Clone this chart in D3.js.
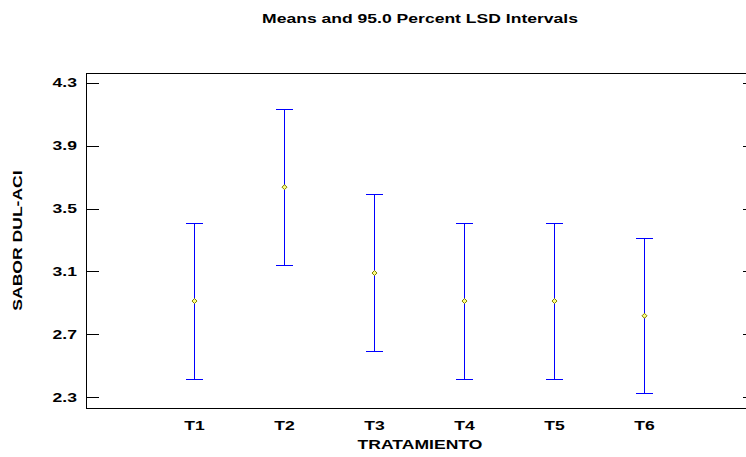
<!DOCTYPE html>
<html>
<head>
<meta charset="utf-8">
<script src="https://cdn.jsdelivr.net/npm/d3@7"></script>
<style>
  body { margin: 0; background: #fff; }
  text { font-family: "Liberation Sans", Arial, sans-serif; font-weight: bold; fill: #000; }
  line, rect { shape-rendering: crispEdges; }
</style>
</head>
<body>
<svg width="746" height="457"></svg>
<script>
// data
const groups = ['T1', 'T2', 'T3', 'T4', 'T5', 'T6'];
const means = [2.912, 3.636, 3.090, 2.912, 2.912, 2.818];
const lower = [2.414, 3.141, 2.594, 2.414, 2.414, 2.322];
const upper = [3.408, 4.131, 3.588, 3.408, 3.408, 3.312];
const yTicks = [2.3, 2.7, 3.1, 3.5, 3.9, 4.3];

const svg = d3.select('svg');

// plot box
const boxL = 86, boxR = 754, boxT = 73, boxB = 408;
const fontSize = 13, stretch = 1.35; // text in the original is drawn a bit wide

// x: group index, 0..7 (first and last slots empty)
const x = d3.scaleLinear().domain([0, 7]).range([104.5, 734.5]);
const y = d3.scaleLinear().domain([2.3, 4.3]).range([397.3, 82.7]);

// helper for wide text
const wideText = (g, tx, ty, str, anchor, rot) => g.append('text')
  .attr('transform', `translate(${tx},${ty})${rot ? ` rotate(${rot})` : ''} scale(${stretch},1)`)
  .attr('text-anchor', anchor)
  .style('font-size', `${fontSize}px`)
  .text(str);

svg.append('rect')
  .attr('x', boxL + 0.5).attr('y', boxT + 0.5)
  .attr('width', boxR - boxL).attr('height', boxB - boxT)
  .attr('fill', 'none').attr('stroke', '#000').attr('stroke-width', 1);

// left axis, ticks pointing inward
const yAxisL = svg.append('g')
  .attr('transform', `translate(${boxL + 0.5},0)`)
  .call(d3.axisLeft(y).tickValues(yTicks).tickFormat('').tickSize(-12));
yAxisL.select('.domain').remove();
yAxisL.selectAll('line').attr('stroke', '#000');
yTicks.forEach(v => wideText(svg, 77, y(v) + 4.5, d3.format('.1f')(v), 'end'));

// right axis ticks
const yAxisR = svg.append('g')
  .attr('transform', `translate(${boxR + 0.5},0)`)
  .call(d3.axisRight(y).tickValues(yTicks).tickFormat('').tickSize(-12));
yAxisR.select('.domain').remove();
yAxisR.selectAll('line').attr('stroke', '#000');

// x labels
groups.forEach((g, i) => wideText(svg, x(i + 1), 430, g, 'middle'));

// error bars
const bars = svg.append('g').selectAll('g').data(groups).join('g');
bars.append('line')
  .attr('x1', (d, i) => x(i + 1)).attr('x2', (d, i) => x(i + 1))
  .attr('y1', (d, i) => y(upper[i])).attr('y2', (d, i) => y(lower[i]))
  .attr('stroke', '#0000ff');
bars.append('line')
  .attr('x1', (d, i) => x(i + 1) - 8.5).attr('x2', (d, i) => x(i + 1) + 8.5)
  .attr('y1', (d, i) => y(upper[i])).attr('y2', (d, i) => y(upper[i]))
  .attr('stroke', '#0000ff');
bars.append('line')
  .attr('x1', (d, i) => x(i + 1) - 8.5).attr('x2', (d, i) => x(i + 1) + 8.5)
  .attr('y1', (d, i) => y(lower[i])).attr('y2', (d, i) => y(lower[i]))
  .attr('stroke', '#0000ff');
bars.append('path')
  .attr('transform', (d, i) => `translate(${x(i + 1)},${y(means[i])})`)
  .attr('d', 'M0,-2.5L2.5,0L0,2.5L-2.5,0Z')
  .attr('fill', '#ffff80').attr('stroke', '#808000').attr('stroke-width', 1);

// titles
wideText(svg, 420, 23, 'Means and 95.0 Percent LSD Intervals', 'middle');
wideText(svg, 420, 449, 'TRATAMIENTO', 'middle');
wideText(svg, 22, (boxT + boxB) / 2, 'SABOR DUL-ACI', 'middle', -90);
</script>
</body>
</html>
